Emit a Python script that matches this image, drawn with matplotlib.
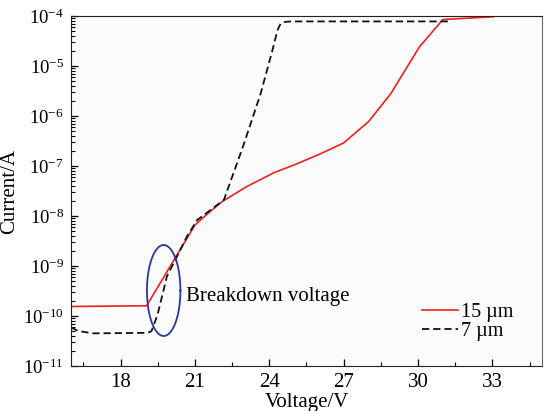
#import the libraries
import numpy as np
import matplotlib
matplotlib.use("Agg")
import matplotlib.pyplot as plt
from matplotlib.ticker import LogLocator, MultipleLocator, NullFormatter

# serif (Times like) text everywhere, also in the 10^-n tick labels
plt.rcParams['font.family'] = ['Liberation Serif', 'DejaVu Serif']
plt.rcParams['mathtext.fontset'] = 'custom'
plt.rcParams['mathtext.rm'] = 'Liberation Serif'
plt.rcParams['mathtext.it'] = 'Liberation Serif:italic'
plt.rcParams['mathtext.bf'] = 'Liberation Serif:bold'

# 15 um device
v_15 = [16.0, 19.05, 21.0, 21.5, 22.1, 23.1, 24.2, 25.0, 26.0, 27.0, 28.0, 28.9, 30.05, 31.0, 33.05]
i_15 = [1.55e-10, 1.6e-10, 6.6e-9, 1.1e-8, 1.95e-8, 3.9e-8, 7.4e-8, 1.05e-7, 1.7e-7, 2.9e-7,
        7.7e-7, 2.8e-6, 2.4e-5, 8.5e-5, 9.7e-5]

# 7 um device
v_7 = [16.0, 16.3, 16.9, 19.1, 19.25, 19.4, 19.5, 19.87, 20.2, 20.68, 21.09, 22.17, 22.98,
       23.65, 24.13, 24.33, 24.46, 24.6, 24.87, 31.3]
i_7 = [5.9e-11, 5.0e-11, 4.5e-11, 4.6e-11, 5.0e-11, 7.9e-11, 1.1e-10, 6.2e-10, 1.3e-9, 3.9e-9,
       8.3e-9, 2.1e-8, 2.8e-7, 2.8e-6, 2.1e-5, 5.2e-5, 7.1e-5, 7.6e-5, 7.8e-5, 7.8e-5]

labels = ["15 \u00b5m", "7 \u00b5m"]
x_ticks = [18, 21, 24, 27, 30, 33]

# breakdown ellipse: centre (V, log10 I) and half axes (V, decades)
ell_center = (19.74, -9.49)
ell_half = (0.675, 0.91)
note_text = "Breakdown voltage"
note_pos = (20.66, 10 ** -9.61)

fig = plt.figure(figsize=(5.5, 4.11), dpi=100)
ax = fig.add_axes([0.129, 0.1095, 0.8565, 0.8515])
ax.set_facecolor('#fbfbfb')

ax.plot(v_15, i_15, color='#f02020', lw=1.2, label=labels[0])
ax.plot(v_7, i_7, color='#111111', lw=1.3, dashes=(4.0, 2.2), label=labels[1])

# ellipse drawn in (V, log I) space so it stays round on the log axis
t = np.linspace(0, 2 * np.pi, 200)
ex = ell_center[0] + ell_half[0] * np.cos(t)
ey = 10 ** (ell_center[1] + ell_half[1] * np.sin(t))
ax.plot(ex, ey, color='#2b35a8', lw=1.3)
ax.text(note_pos[0], note_pos[1], note_text, fontsize=15, va='center', ha='left')

ax.set_yscale('log')
ax.set_xlim(16, 35)
ax.set_ylim(1e-11, 1e-4)
ax.set_xticks(x_ticks)
ax.xaxis.set_minor_locator(MultipleLocator(1.5))
ax.yaxis.set_major_locator(LogLocator(base=10, numticks=20))
ax.yaxis.set_minor_locator(LogLocator(base=10, subs=np.arange(2, 10), numticks=20))
ax.yaxis.set_minor_formatter(NullFormatter())

ax.tick_params(which='both', direction='in', top=False, right=False)
ax.tick_params(axis='x', labelsize=15)
ax.tick_params(axis='y', labelsize=13.5)
ax.tick_params(which='major', length=5, width=0.9, pad=5)
ax.tick_params(which='minor', length=3, width=0.8)
for side in ['left', 'bottom', 'top']:
    ax.spines[side].set_color('#222222')
ax.spines['right'].set_color('#666666')

ax.set_xlabel("Voltage/V", fontsize=15, labelpad=1)
ax.set_ylabel("Current/A", fontsize=15, labelpad=3)

ax.legend(loc='upper left', bbox_to_anchor=(0.745, 0.18), frameon=False, fontsize=14.5,
          borderpad=0, borderaxespad=0, handlelength=1.8, handletextpad=0.15, labelspacing=0.0)

plt.savefig("out.png", dpi=100)
